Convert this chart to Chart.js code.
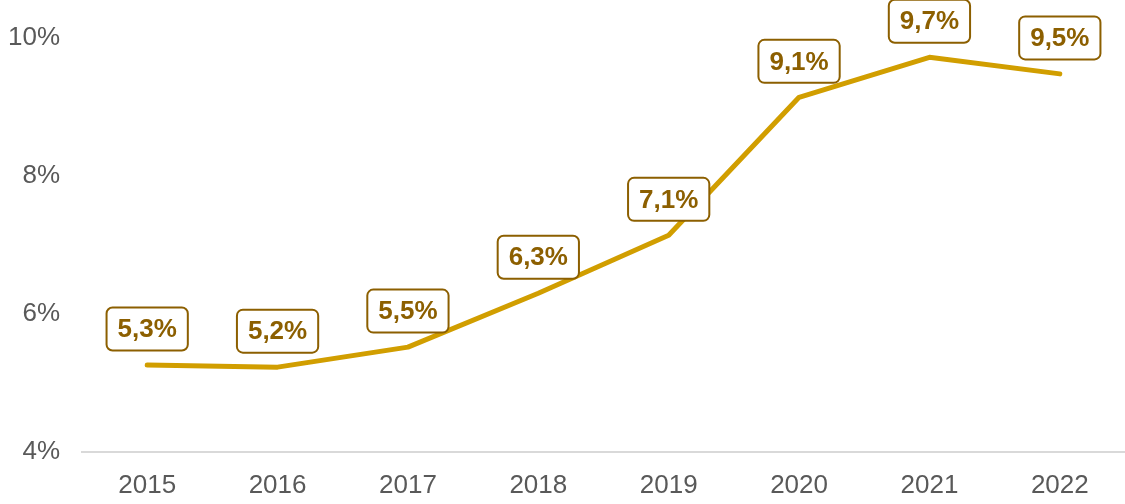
<!DOCTYPE html>
<html>
<head>
<meta charset="utf-8">
<script src="https://cdn.jsdelivr.net/npm/chart.js@4/dist/chart.umd.min.js"></script>
<style>
html,body{margin:0;padding:0;background:#fff;}
#wrap{width:1125px;height:504px;position:relative;}
</style>
</head>
<body>
<div id="wrap"><canvas id="c" width="1125" height="504"></canvas></div>
<script>
const categories = ["2015","2016","2017","2018","2019","2020","2021","2022"];
const values = [5.26, 5.23, 5.52, 6.30, 7.14, 9.14, 9.72, 9.48];
const yTicks = [4, 6, 8, 10];

const fmt = v => v.toFixed(1).replace('.', ',') + '%';

const labelPlugin = {
  id: 'boxLabels',
  afterDatasetsDraw(chart) {
    const ctx = chart.ctx;
    const meta = chart.getDatasetMeta(0);
    ctx.save();
    ctx.font = 'bold 26px "Liberation Sans", Arial, sans-serif';
    ctx.textAlign = 'center';
    ctx.textBaseline = 'middle';
    meta.data.forEach((pt, i) => {
      const txt = fmt(values[i]);
      const w = ctx.measureText(txt).width + 22;
      const h = 43;
      const cx = pt.x, cy = pt.y - 36;
      const x = cx - w / 2, y = cy - h / 2;
      ctx.beginPath();
      ctx.roundRect(x, y, w, h, 6);
      ctx.fillStyle = '#ffffff';
      ctx.fill();
      ctx.lineWidth = 2;
      ctx.strokeStyle = '#8C5F00';
      ctx.stroke();
      ctx.fillStyle = '#8C5F00';
      ctx.fillText(txt, cx, cy + 1);
    });
    ctx.restore();
  }
};

new Chart(document.getElementById('c'), {
  type: 'line',
  data: {
    labels: categories,
    datasets: [{
      data: values,
      borderColor: '#D19E00',
      borderWidth: 5,
      pointRadius: 0,
      tension: 0,
      fill: false,
      borderCapStyle: 'round',
      borderJoinStyle: 'round'
    }]
  },
  options: {
    responsive: false,
    animation: false,
    events: [],
    layout: { padding: { top: 38, right: 0, bottom: 8, left: 0 } },
    plugins: { legend: { display: false }, tooltip: { enabled: false } },
    scales: {
      x: {
        offset: true,
        afterFit(scale) { scale.height = 44; },
        grid: { display: false },
        border: { display: true, color: '#D9D9D9', width: 2 },
        ticks: { color: '#595959', font: { size: 26, family: '"Liberation Sans", Arial, sans-serif' }, padding: 10, maxRotation: 0 }
      },
      y: {
        min: 4, max: 10,
        afterFit(scale) { scale.width = 82; },
        afterBuildTicks(scale) { scale.ticks = yTicks.map(v => ({ value: v })); },
        grid: { display: false },
        border: { display: false },
        ticks: { color: '#595959', font: { size: 26, family: '"Liberation Sans", Arial, sans-serif' }, padding: 14, callback: v => v + '%' }
      }
    }
  },
  plugins: [labelPlugin]
});
</script>
</body>
</html>
